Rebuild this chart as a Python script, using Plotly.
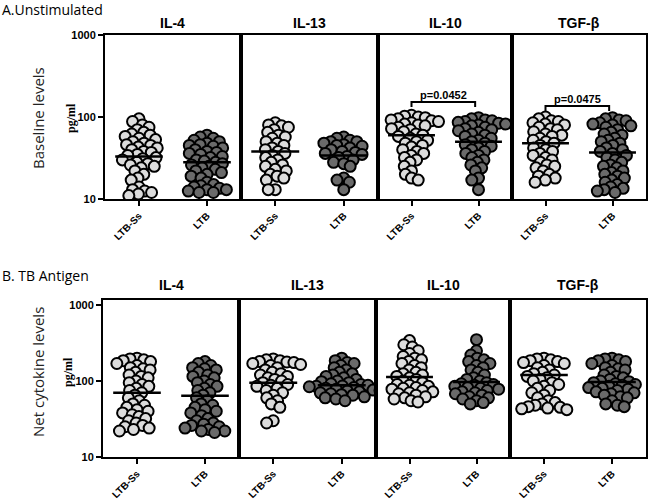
import numpy as np
import plotly.graph_objects as go

# ---------------- data ----------------
cytokines = ["IL-4", "IL-13", "IL-10", "TGF-β"]
groups = ["LTB-Ss", "LTB"]

# A. Unstimulated (pg/ml)
unstim_il4_ltbss = [95, 88, 80, 75, 70, 65, 62, 60, 58, 55, 53, 50, 48, 46, 45, 43, 42, 40, 38, 37,
                    35, 34, 32, 31, 30, 28, 27, 26, 25, 24, 22, 20, 18, 17, 14, 13, 12.5, 12, 11.5, 11]
unstim_il4_ltb = [60, 57, 55, 52, 50, 48, 46, 45, 44, 42, 40, 38, 37, 36, 35, 33, 32, 30, 29, 28,
                  27, 26, 25, 24, 23, 22, 21, 20, 19, 18, 16, 15, 14.5, 14, 13.5, 13, 13, 12.5, 12, 12]
unstim_il13_ltbss = [85, 80, 78, 75, 70, 65, 60, 57, 55, 50, 48, 45, 42, 40, 38, 36, 34, 32, 30, 28,
                     26, 25, 23, 22, 20, 19, 18, 17, 13, 13]
unstim_il13_ltb = [57, 55, 52, 50, 50, 48, 46, 45, 44, 42, 40, 38, 37, 36, 35, 33, 32, 30, 28, 27,
                   25, 18, 17, 16, 13]
unstim_il10_ltbss = [105, 102, 100, 98, 95, 92, 90, 88, 85, 82, 80, 78, 75, 72, 70, 66, 62, 60, 58, 55,
                     52, 50, 48, 45, 43, 40, 38, 36, 34, 32, 30, 28, 25, 22, 20, 18, 17]
unstim_il10_ltb = [98, 95, 92, 90, 88, 86, 84, 82, 80, 78, 75, 72, 70, 68, 65, 62, 60, 58, 55, 52,
                   50, 48, 46, 44, 42, 40, 38, 36, 34, 32, 30, 28, 26, 24, 22, 18, 17, 13]
unstim_tgf_ltbss = [100, 95, 90, 88, 85, 82, 80, 75, 72, 70, 66, 62, 60, 58, 55, 52, 50, 48, 45, 42,
                    40, 38, 36, 34, 32, 30, 28, 26, 25, 24, 22, 20, 19, 18, 17, 16]
unstim_tgf_ltb = [98, 95, 92, 90, 85, 82, 80, 78, 75, 70, 65, 62, 60, 55, 52, 50, 48, 45, 42, 40,
                  38, 36, 34, 32, 30, 28, 26, 25, 24, 22, 21, 20, 19, 18, 17, 16, 15, 14, 13.5, 13, 12.5, 12]
unstim_means = [[33, 28], [38, 34], [60, 50], [48, 37]]

# B. TB Antigen (net pg/ml)
tb_il4_ltbss = [200, 195, 190, 185, 180, 170, 160, 150, 145, 140, 130, 120, 115, 110, 100, 95, 90, 85, 80, 75,
                70, 65, 60, 55, 50, 48, 45, 42, 40, 38, 36, 34, 32, 30, 28, 26, 25, 24, 23, 22]
tb_il4_ltb = [180, 170, 160, 150, 145, 140, 130, 120, 115, 110, 100, 95, 90, 85, 80, 75, 70, 65, 60, 55,
              50, 48, 45, 42, 40, 38, 35, 32, 30, 28, 27, 26, 25, 24, 23, 22, 22, 21]
tb_il13_ltbss = [195, 190, 185, 180, 178, 175, 170, 165, 160, 150, 140, 130, 125, 120, 115, 110, 105, 100, 95, 90,
                 88, 85, 80, 75, 70, 65, 60, 55, 50, 45, 30, 28]
tb_il13_ltb = [200, 185, 175, 170, 160, 150, 140, 130, 125, 120, 115, 110, 105, 100, 98, 95, 92, 90, 88, 86,
               85, 84, 82, 80, 78, 76, 75, 74, 72, 70, 68, 66, 65, 62, 60, 58, 55]
tb_il10_ltbss = [340, 300, 280, 250, 230, 210, 200, 190, 180, 170, 160, 150, 140, 130, 125, 120, 115, 110, 105, 100,
                 95, 90, 88, 85, 82, 80, 78, 75, 72, 70, 68, 65, 62, 60, 58, 55, 53]
tb_il10_ltb = [350, 250, 220, 200, 190, 180, 170, 160, 150, 140, 130, 120, 110, 105, 100, 95, 92, 90, 88, 85,
               82, 80, 78, 75, 72, 70, 68, 65, 62, 60, 58, 55, 52, 50]
tb_tgf_ltbss = [200, 195, 190, 185, 180, 175, 170, 160, 150, 140, 130, 125, 120, 115, 110, 105, 100, 95, 90, 85,
                80, 75, 70, 65, 60, 55, 52, 50, 48, 46, 45, 44, 43, 42]
tb_tgf_ltb = [200, 195, 190, 185, 180, 170, 160, 150, 145, 140, 130, 120, 115, 110, 105, 100, 98, 95, 92, 90,
              88, 85, 82, 80, 78, 75, 72, 70, 68, 65, 62, 60, 55, 50, 48, 46]
tb_means = [[70, 64], [95, 88], [113, 97], [120, 97]]

# significance brackets (top row): panel index, p label, bracket height, tick bottom
sig_panels = [2, 3]
sig_labels = ["p=0.0452", "p=0.0475"]
sig_tops = [152, 136]
sig_bottoms = [132, 118]

row_titles = ["A.Unstimulated", "B. TB Antigen"]
row_ylabels = ["Baseline levels", "Net cytokine levels"]
ytick_vals = [10, 100, 1000]
ytick_text = ["10", "100", "1000"]

unstim = [[unstim_il4_ltbss, unstim_il4_ltb], [unstim_il13_ltbss, unstim_il13_ltb],
          [unstim_il10_ltbss, unstim_il10_ltb], [unstim_tgf_ltbss, unstim_tgf_ltb]]
tbag = [[tb_il4_ltbss, tb_il4_ltb], [tb_il13_ltbss, tb_il13_ltb],
        [tb_il10_ltbss, tb_il10_ltb], [tb_tgf_ltbss, tb_tgf_ltb]]

# ---------------- layout geometry (pixels) ----------------
W, H = 650, 501
rows = [
    dict(data=unstim, means=unstim_means, ypx=(35, 199), yr=[1, 3],
         xpx=[(105, 241), (241, 378), (378, 512), (512, 646)], title_y=23, row_title_y=10,
         ylab_y=118, pg_x=71),
    dict(data=tbag, means=tb_means, ypx=(300, 457), yr=[1, 3.066],
         xpx=[(103, 239), (239, 376), (376, 510), (510, 646)], title_y=285, row_title_y=275,
         ylab_y=372, pg_x=68),
]
fill_colors = ["#dcdcdc", "#6a6a6a"]
MARKER = 11
COLLIDE = 7.0


def beeswarm(vals, ppd, ppx):
    """Return x offsets (data units) for a swarm, computed in pixel space."""
    ys = np.log10(np.asarray(vals, float)) * ppd
    order = np.argsort(-ys)
    placed = []
    offs = np.zeros(len(vals))
    for idx in order:
        y = ys[idx]
        forb = []
        for (px, py) in placed:
            dy = abs(py - y)
            if dy < COLLIDE:
                dx = np.sqrt(COLLIDE ** 2 - dy ** 2)
                forb.append((px - dx, px + dx))
        cands = [0.0] + [a for a, b in forb] + [b for a, b in forb]
        cands = sorted(cands, key=lambda c: (abs(c), c))
        best = 0.0
        for c in cands:
            if all(not (a + 1e-6 < c < b - 1e-6) for a, b in forb):
                best = c
                break
        placed.append((best, y))
        offs[idx] = best / ppx
    return offs


fig = go.Figure()
annotations = []
layout_axes = {}
k = 0
for r, row in enumerate(rows):
    y0p, y1p = row["ypx"]
    ydom = [1 - y1p / H, 1 - y0p / H]
    ppd = (y1p - y0p) / (row["yr"][1] - row["yr"][0])
    for c in range(4):
        k += 1
        xa = "x" if k == 1 else f"x{k}"
        ya = "y" if k == 1 else f"y{k}"
        x0p, x1p = row["xpx"][c]
        ppx = (x1p - x0p) / 2.0
        for g in range(2):
            vals = row["data"][c][g]
            offs = beeswarm(vals, ppd, ppx)
            fig.add_trace(go.Scatter(
                x=g + offs, y=vals, mode="markers", xaxis=xa, yaxis=ya, showlegend=False,
                marker=dict(size=MARKER, color=fill_colors[g], line=dict(color="black", width=2)),
                hoverinfo="skip"))
        for g in range(2):
            m = row["means"][c][g]
            fig.add_trace(go.Scatter(
                x=[g - 0.35, g + 0.35], y=[m, m], mode="lines", xaxis=xa, yaxis=ya,
                showlegend=False, line=dict(color="black", width=2.5), hoverinfo="skip"))
        if r == 0 and c in sig_panels:
            j = sig_panels.index(c)
            top, bot = sig_tops[j], sig_bottoms[j]
            fig.add_trace(go.Scatter(
                x=[0, 0, 0.95, 0.95], y=[bot, top, top, bot], mode="lines", xaxis=xa, yaxis=ya,
                showlegend=False, line=dict(color="black", width=2), hoverinfo="skip"))
            annotations.append(dict(x=0.475, y=np.log10(top), xref=xa, yref=ya, text=sig_labels[j],
                                    showarrow=False, xanchor="center", yanchor="bottom", yshift=-1,
                                    font=dict(family="Liberation Sans", size=11, color="black",
                                              weight="bold")))
        first = (c == 0)
        layout_axes["xaxis" if k == 1 else f"xaxis{k}"] = dict(
            domain=[x0p / W, x1p / W], range=[-0.5, 1.5], anchor=ya, automargin=False,
            tickvals=[0, 1], ticktext=groups, tickangle=-45, ticks="outside", ticklen=5,
            tickwidth=2, tickcolor="black", showline=True, linewidth=2, linecolor="black",
            mirror=True, showgrid=False, zeroline=False,
            tickfont=dict(family="Liberation Sans", size=10, color="black", weight="bold"))
        layout_axes["yaxis" if k == 1 else f"yaxis{k}"] = dict(
            domain=ydom, type="log", range=row["yr"], anchor=xa, automargin=False,
            tickvals=ytick_vals, ticktext=ytick_text, showticklabels=first,
            ticks="outside" if first else "", ticklen=5, tickwidth=2, tickcolor="black",
            showline=True, linewidth=2, linecolor="black", mirror=True, showgrid=False,
            zeroline=False,
            tickfont=dict(family="Liberation Sans", size=11, color="black", weight="bold"))
        annotations.append(dict(x=(x0p + x1p) / 2 / W, y=1 - row["title_y"] / H, xref="paper",
                                yref="paper", text=cytokines[c], showarrow=False,
                                xanchor="center", yanchor="middle",
                                font=dict(family="Liberation Sans", size=14, color="black",
                                          weight="bold")))
    annotations.append(dict(x=0, y=1 - row["row_title_y"] / H, xref="paper", yref="paper",
                            text=row_titles[r], showarrow=False, xanchor="left", yanchor="middle",
                            font=dict(family="Open Sans", size=14, color="black")))
    annotations.append(dict(x=38 / W, y=1 - row["ylab_y"] / H, xref="paper", yref="paper",
                            text=row_ylabels[r], showarrow=False, textangle=-90,
                            xanchor="center", yanchor="middle",
                            font=dict(family="Open Sans", size=15, color="#222")))
    annotations.append(dict(x=row["pg_x"] / W, y=1 - row["ylab_y"] / H, xref="paper", yref="paper",
                            text="pg/ml", showarrow=False, textangle=-90,
                            xanchor="center", yanchor="middle",
                            font=dict(family="Liberation Serif", size=12, color="black",
                                      weight="bold")))

fig.update_layout(width=W, height=H,
                  margin=dict(l=0, r=0, t=0, b=0, pad=0, autoexpand=False),
                  paper_bgcolor="white", plot_bgcolor="white", annotations=annotations,
                  **layout_axes)
fig.write_html(
    "out.html",
    config={"displayModeBar": False},
    post_script=("var d=document.getElementById('{plot_id}');"
                 "d.style.position='fixed';d.style.top='0px';d.style.left='0px';"
                 "document.body.style.margin='0';document.body.style.padding='0';"
                 "document.body.style.overflow='hidden';"),
)
